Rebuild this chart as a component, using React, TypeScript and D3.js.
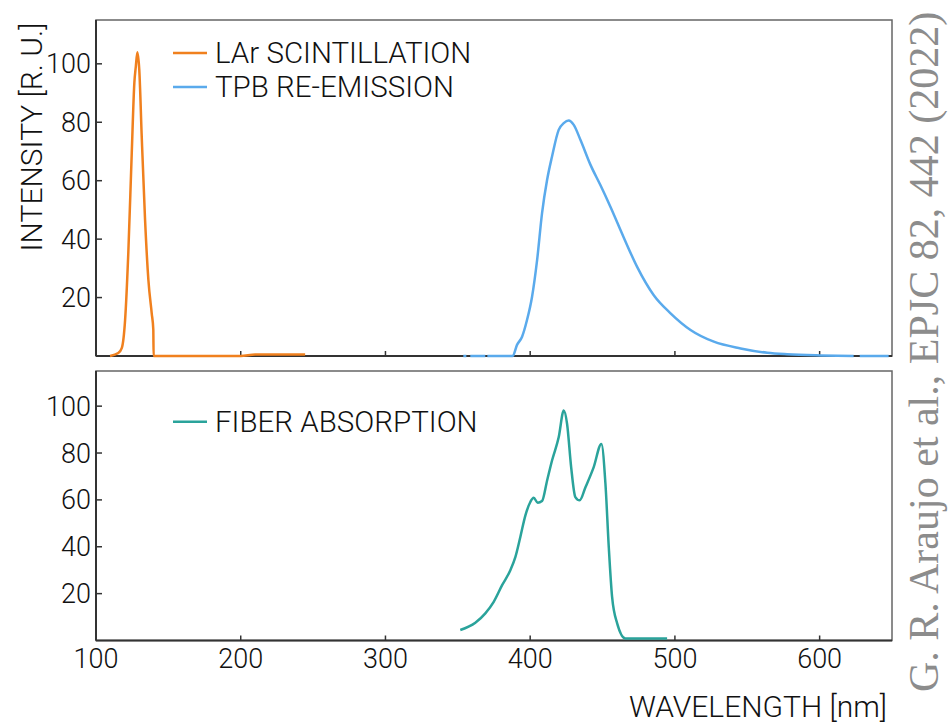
import React from "react";
import * as d3 from "d3";

// ---- data (wavelength nm, intensity R.U.) ----
const larWavelength = [109.7, 115.4, 117.8, 120.1, 122.3, 124.7, 126.5, 127.5, 128.6, 129.9, 131.6, 133.9, 136.2, 138.5, 139.6, 139.8, 200, 210, 244.5];
const larIntensity = [0, 1, 2.7, 12.3, 35, 69.5, 93.5, 99, 104, 98, 75, 46.6, 26, 14.6, 9, 0, 0, 0.5, 0.5];

const tpbWavelength = [353.8, 355.9, null, 358.6, 369, null, 370.4, 387.9, 390.9, 394.4, 397.8, 401.3, 404.8, 408.2, 411.7, 415.1, 419.7, 423.2, 426.6, 430.1, 434.7, 441.6, 448.5, 455.5, 464.7, 473.9, 485.4, 497, 510.8, 526.9, 545.4, 563.8, 577.6, 600.7, 623.5, null, 627.7, 647.7];
const tpbIntensity = [0, 0, null, 0, 0, null, 0, 0, 3.8, 6.6, 12.3, 20.3, 32.9, 48.9, 60.3, 68.3, 77.4, 79.7, 80.6, 79.1, 74, 65.5, 58.5, 51, 40.5, 30.5, 20.8, 14.6, 8.9, 4.9, 2.6, 1.1, 0.6, 0.2, 0, null, 0, 0];

const fiberWavelength = [351.7, 362.1, 369, 374.8, 380.6, 386.3, 389.8, 393.2, 396.7, 400.1, 402.4, 405.2, 408.2, 411.7, 415.1, 419.7, 423.2, 425.5, 428.3, 431.2, 434.2, 438.2, 443.9, 449.2, 452, 454.3, 456.6, 460.1, 465.8, 494.6];
const fiberIntensity = [4.5, 7.6, 11.6, 16.5, 23.6, 30, 35.7, 44.2, 53.4, 59.1, 60.9, 58.8, 59.5, 68.3, 76.8, 86.7, 98.1, 92.4, 74, 61.2, 59.8, 65.4, 74, 83.9, 66.9, 39.9, 18.6, 7.3, 0.9, 0.9];

const xTicks = [100, 200, 300, 400, 500, 600];
const yTicks = [20, 40, 60, 80, 100];
const seriesNames = ["LAr SCINTILLATION", "TPB RE-EMISSION", "FIBER ABSORPTION"];
const seriesColors = ["#f0801e", "#5aaaec", "#2aa39b"];

const W = 952;
const H = 723;
const FONT = "Roboto, 'Liberation Sans', sans-serif";

type Pt = { x: number | null; y: number | null };
const zip = (xs: (number | null)[], ys: (number | null)[]): Pt[] => xs.map((x, i) => ({ x, y: ys[i] }));

export default function App() {
  const x = d3.scaleLinear().domain([100, 650]).range([96, 892]);
  const yTop = d3.scaleLinear().domain([0, 115]).range([356, 20]);
  const yBot = d3.scaleLinear().domain([0, 115]).range([640.5, 371]);

  const mkLine = (y: d3.ScaleLinear<number, number>, curve: d3.CurveFactory) =>
    d3
      .line<Pt>()
      .defined((d) => d.x != null && d.y != null)
      .x((d) => x(d.x as number))
      .y((d) => y(d.y as number))
      .curve(curve);

  const lineTop = mkLine(yTop, d3.curveMonotoneX);
  const lineBot = mkLine(yBot, d3.curveMonotoneX);

  const panel = (y: d3.ScaleLinear<number, number>, key: string, showXLabels: boolean) => {
    const [y0, y1] = y.range();
    const [x0, x1] = x.range();
    return (
      <g key={key}>
        <rect x={x0} y={y1} width={x1 - x0} height={y0 - y1} fill="none" stroke="#666" strokeWidth={1.5} />
        <line x1={x0} x2={x1} y1={y0} y2={y0} stroke="#333" strokeWidth={2} />
        <line x1={x0} x2={x0} y1={y0} y2={y1} stroke="#333" strokeWidth={2} />
        {xTicks
          .filter((t) => t > 100)
          .map((t) => (
            <line key={"xt" + t} x1={x(t)} x2={x(t)} y1={y0} y2={y0 - 5} stroke="#333" strokeWidth={1.5} />
          ))}
        {yTicks.map((t) => (
          <g key={"yt" + t}>
            <line x1={x0} x2={x0 + 6} y1={y(t)} y2={y(t)} stroke="#333" strokeWidth={1.5} />
            <text x={x0 - 5} y={y(t) + 9.5} textAnchor="end" fontSize={27} fontWeight={300} fontFamily={FONT} fill="#111">
              {t}
            </text>
          </g>
        ))}
        {showXLabels &&
          xTicks.map((t) => (
            <text key={"xl" + t} x={x(t)} y={668} textAnchor="middle" fontSize={27} fontWeight={300} fontFamily={FONT} fill="#111">
              {t}
            </text>
          ))}
      </g>
    );
  };

  const legendItem = (i: number, yc: number) => (
    <g key={"lg" + i}>
      <line x1={173} x2={207} y1={yc} y2={yc} stroke={seriesColors[i]} strokeWidth={2.5} />
      <text x={215} y={yc + 10} fontSize={29.5} fontWeight={300} fontFamily={FONT} fill="#111">
        {seriesNames[i]}
      </text>
    </g>
  );

  return (
    <svg width={W} height={H} style={{ position: "absolute", left: 0, top: 0, background: "#fff" }}>
      <rect x={0} y={0} width={W} height={H} fill="#fff" />
      {panel(yTop, "top", false)}
      {panel(yBot, "bot", true)}
      <path d={lineTop(zip(larWavelength, larIntensity)) || ""} fill="none" stroke={seriesColors[0]} strokeWidth={2.5} strokeLinejoin="round" />
      <path d={lineTop(zip(tpbWavelength, tpbIntensity)) || ""} fill="none" stroke={seriesColors[1]} strokeWidth={2.5} strokeLinejoin="round" />
      <path d={lineBot(zip(fiberWavelength, fiberIntensity)) || ""} fill="none" stroke={seriesColors[2]} strokeWidth={2.5} strokeLinejoin="round" />
      {legendItem(0, 53)}
      {legendItem(1, 87)}
      {legendItem(2, 421.7)}
      <text transform="translate(42,137) rotate(-90)" textAnchor="middle" fontSize={30} fontWeight={300} fontFamily={FONT} fill="#111">
        INTENSITY [R. U.]
      </text>
      <text x={887} y={717} textAnchor="end" fontSize={30} fontWeight={300} fontFamily={FONT} fill="#111">
        WAVELENGTH [nm]
      </text>
      <text transform="translate(938,692) rotate(-90)" textAnchor="start" fontSize={42} fontFamily="'Liberation Serif', 'DejaVu Serif', serif" fill="#8c8c8c">
        G. R. Araujo et al., EPJC 82, 442 (2022)
      </text>
    </svg>
  );
}
